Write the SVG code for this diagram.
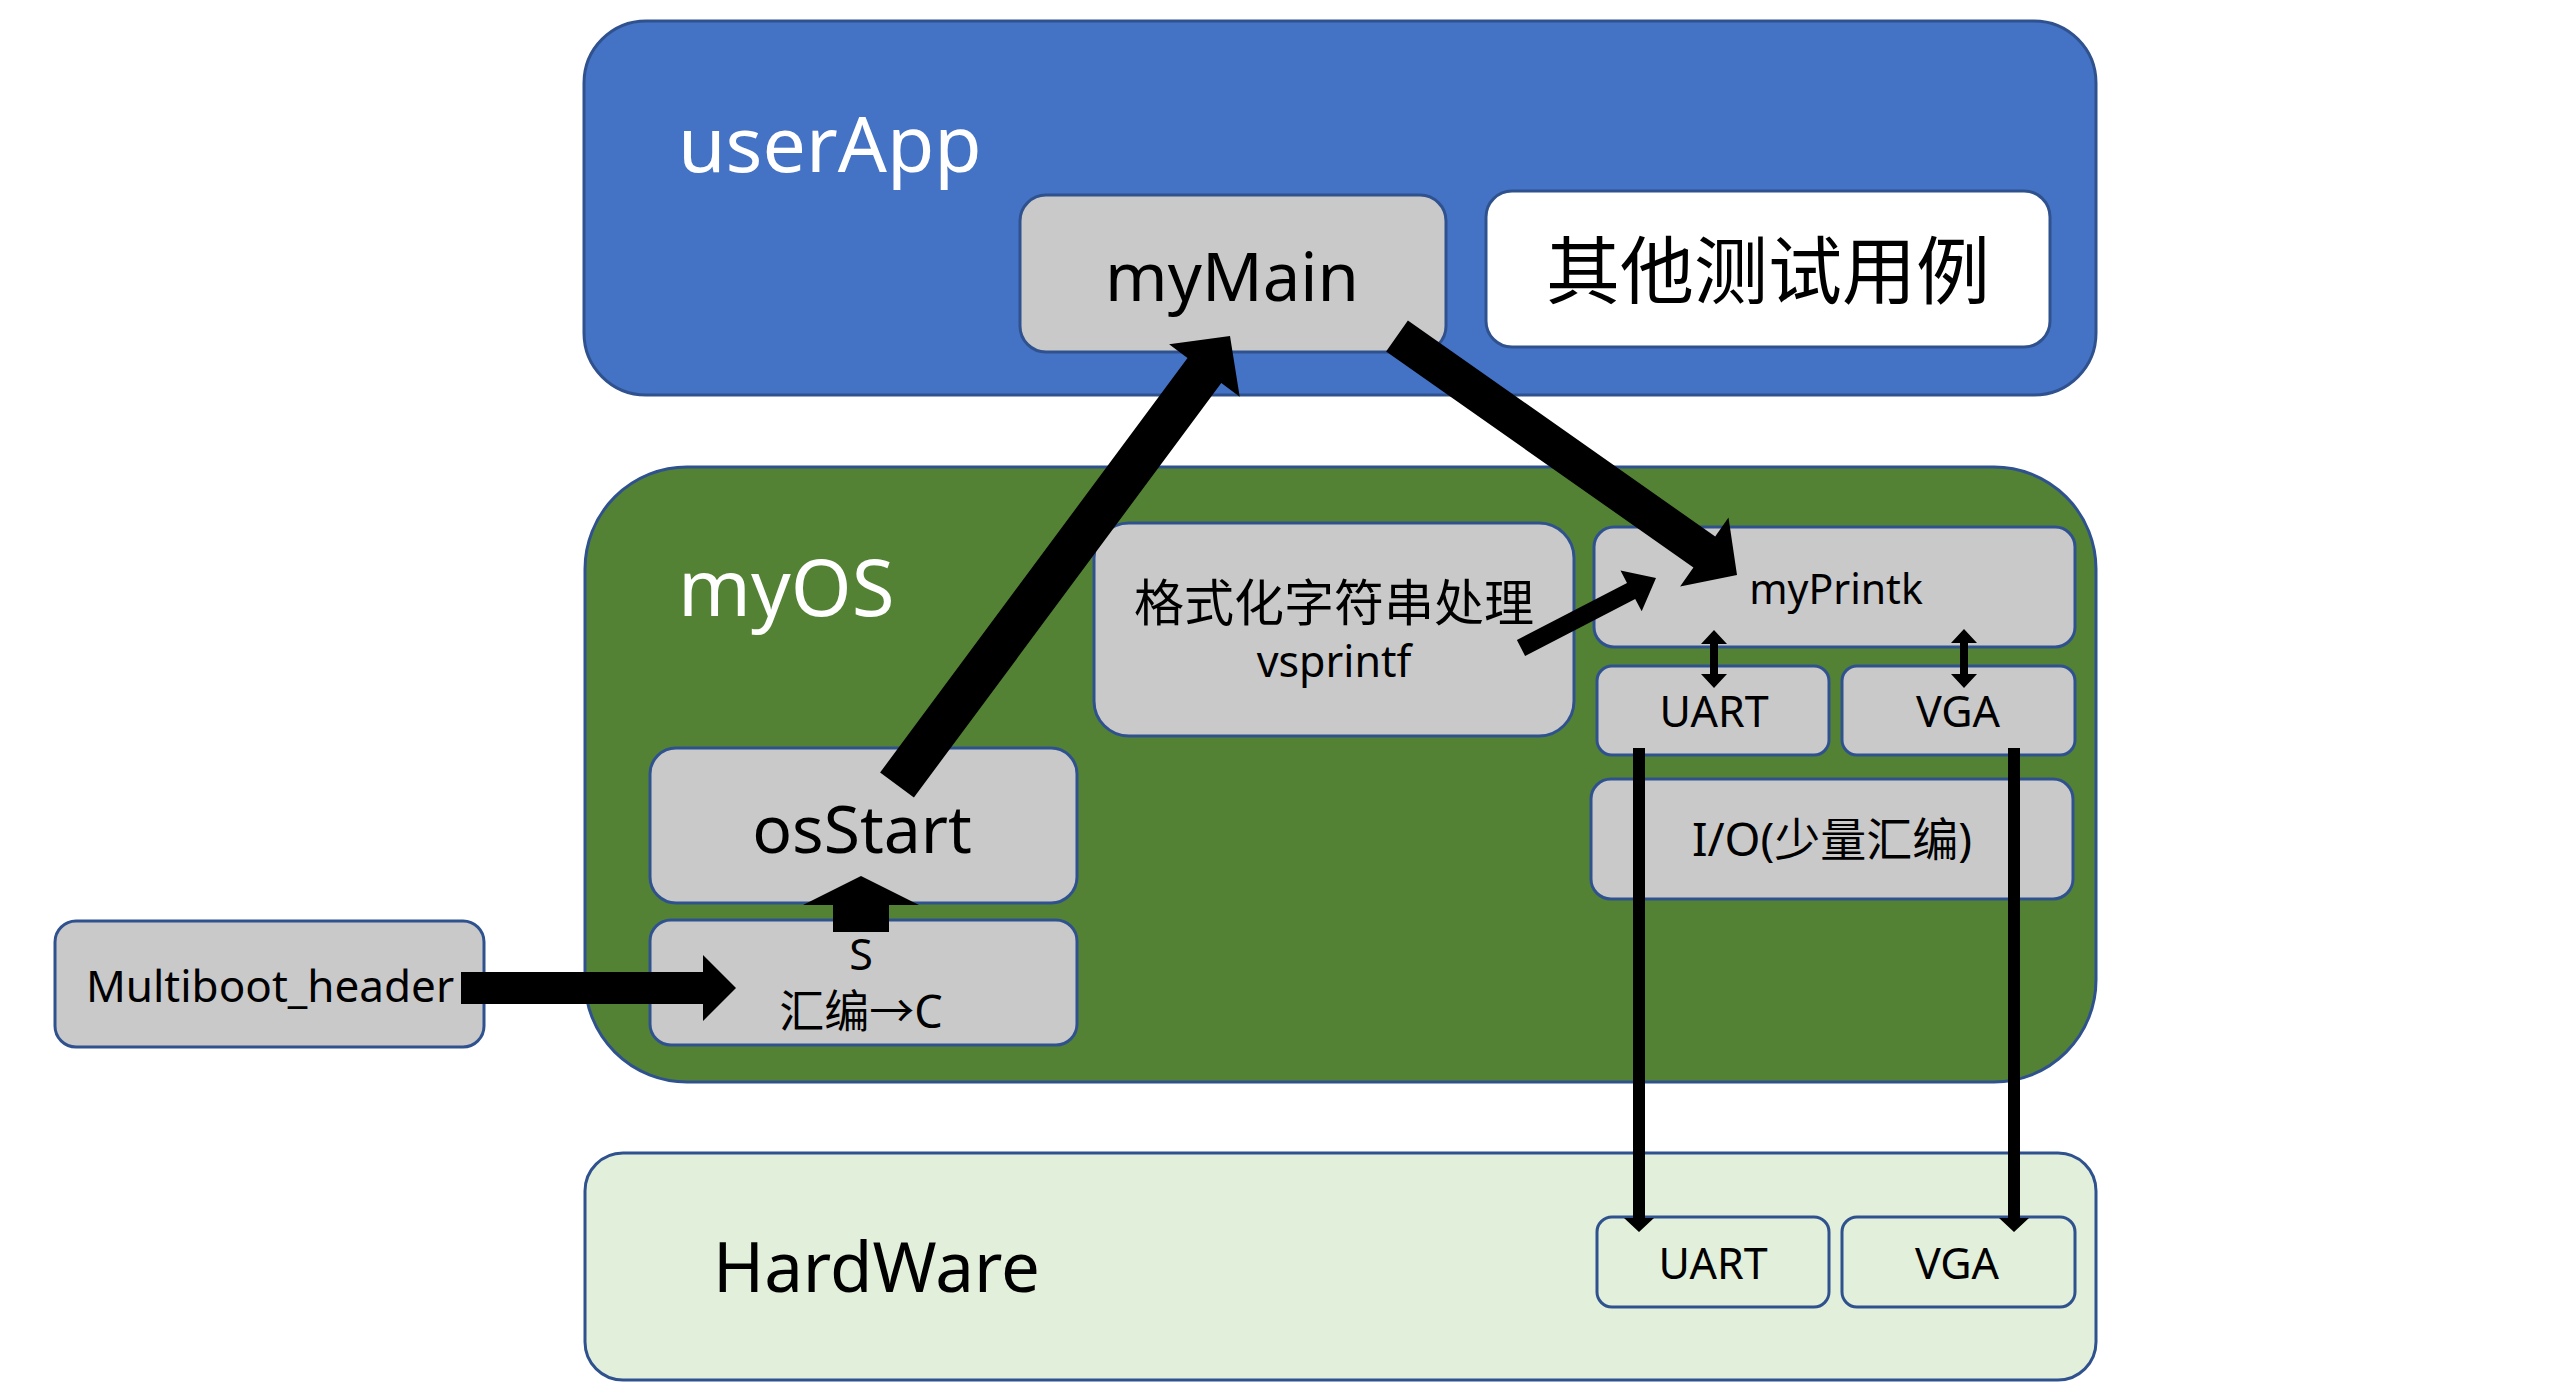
<svg xmlns="http://www.w3.org/2000/svg" width="2560" height="1400" viewBox="0 0 2560 1400">
<style>
.box{stroke:#2F528F;stroke-width:3}
.gray{fill:#C9C9C9}
.t{font-family:"Noto Sans","Noto Sans CJK SC",sans-serif;fill:#000}
.w{fill:#FFFFFF}
.c{text-anchor:middle}
.arr{fill:#000;stroke:none}
</style>
<rect width="2560" height="1400" fill="#FFFFFF"/>
<g id="userApp">
<rect class="box" x="584" y="21" width="1512" height="374" rx="62" fill="#4472C4"/>
<text class="t w" x="678" y="172" font-size="77">userApp</text>
</g>
<g id="myMain">
<rect class="box gray" x="1020" y="195" width="426" height="157" rx="26"/>
<text class="t c" x="1232" y="301" font-size="67">myMain</text>
</g>
<g id="otherTests">
<rect class="box" x="1486" y="191" width="564" height="156" rx="26" fill="#FFFFFF"/>
<text class="t c" x="1768" y="298" font-size="74">其他测试用例</text>
</g>
<g id="myOS">
<rect class="box" x="585" y="467" width="1511" height="615" rx="102" fill="#548235"/>
<text class="t w" x="678" y="616" font-size="78">myOS</text>
</g>
<g id="vsprintf">
<rect class="box gray" x="1094" y="523" width="480" height="213" rx="35"/>
<text class="t c" x="1334" y="621" font-size="50">格式化字符串处理</text>
<text class="t c" x="1334" y="677" font-size="43">vsprintf</text>
</g>
<g id="myPrintk">
<rect class="box gray" x="1594" y="527" width="481" height="120" rx="20"/>
<text class="t c" x="1836" y="604" font-size="41">myPrintk</text>
</g>
<g id="osUART">
<rect class="box gray" x="1597" y="666" width="232" height="89" rx="15"/>
<text class="t c" x="1714" y="727" font-size="43">UART</text>
</g>
<g id="osVGA">
<rect class="box gray" x="1842" y="666" width="233" height="89" rx="15"/>
<text class="t c" x="1958" y="727" font-size="43">VGA</text>
</g>
<g id="io">
<rect class="box gray" x="1591" y="779" width="482" height="120" rx="20"/>
<text class="t c" x="1832" y="856" font-size="46">I/O(少量汇编)</text>
</g>
<g id="osStart">
<rect class="box gray" x="650" y="748" width="427" height="155" rx="26"/>
<text class="t c" x="862" y="853" font-size="66">osStart</text>
</g>
<g id="asmToC">
<rect class="box gray" x="650" y="920" width="427" height="125" rx="21"/>
<text class="t c" x="861" y="970" font-size="43">S</text>
<text class="t c" x="861" y="1028" font-size="45">汇编→C</text>
</g>
<g id="multiboot">
<rect class="box gray" x="55" y="921" width="429" height="126" rx="21"/>
<text class="t c" x="270" y="1002" font-size="44">Multiboot_header</text>
</g>
<g id="hardware">
<rect class="box" x="585" y="1153" width="1511" height="227" rx="38" fill="#E2EFDA"/>
<text class="t" x="713" y="1292" font-size="69">HardWare</text>
</g>
<g id="hwUART">
<rect class="box" x="1597" y="1217" width="232" height="90" rx="15" fill="#E2EFDA"/>
<text class="t c" x="1713" y="1279" font-size="43">UART</text>
</g>
<g id="hwVGA">
<rect class="box" x="1842" y="1217" width="233" height="90" rx="15" fill="#E2EFDA"/>
<text class="t c" x="1957" y="1279" font-size="43">VGA</text>
</g>
<g id="connectors">
<polygon class="arr" points="880.1,772.5 1187.5,358 1169.1,344.3 1230,336 1239.7,396.7 1221.3,383 913.9,797.5"/>
<polygon class="arr" points="1407.9,320.5 1715.2,536.5 1728.5,517.6 1737,575 1680.1,586.4 1693.4,567.5 1386.1,351.5"/>
<polygon class="arr" points="1516.9,640 1627,582.9 1620.5,570.5 1656,578 1641.7,611.3 1635.2,598.9 1525.1,656"/>
<polygon class="arr" points="461,972 703,972 703,955 736,988 703,1021 703,1004 461,1004"/>
<polygon class="arr" points="833,932 833,905 803,905 861,876 919,905 889,905 889,932"/>
<polygon class="arr" points="1710,644 1701,644 1714,630 1727,644 1718,644 1718,674 1727,674 1714,688 1701,674 1710,674"/>
<polygon class="arr" points="1960,643 1951,643 1964,629 1977,643 1968,643 1968,674 1977,674 1964,688 1951,674 1960,674"/>
<polygon class="arr" points="1633,748 1645,748 1645,1218 1654,1218 1639,1232 1624,1218 1633,1218"/>
<polygon class="arr" points="2008,748 2020,748 2020,1218 2029,1218 2014,1232 1999,1218 2008,1218"/>
</g>
</svg>
